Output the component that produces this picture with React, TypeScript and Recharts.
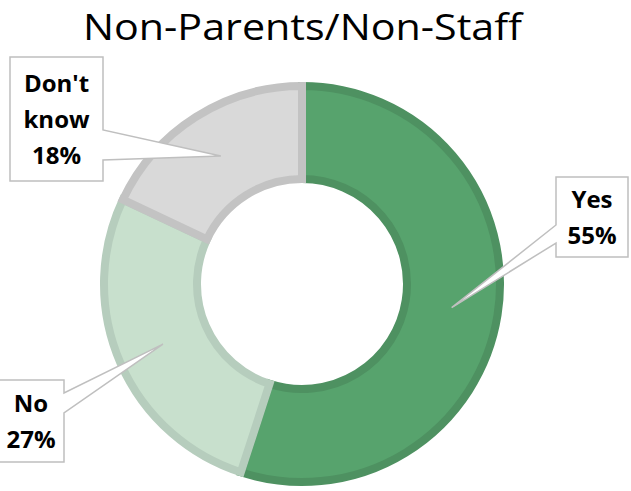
import React from "react";
import { PieChart, Pie, Cell } from "recharts";

const categories = ["Yes", "No", "Don't know"];
const shares = [55, 27, 18];

const FILLS = ["#57a36d", "#c8e0cd", "#d9d9d9"];
const STROKES = ["#4e9161", "#b6cdbd", "#c3c3c3"];

const data = categories.map((name, i) => ({ name, value: shares[i] }));

// callout box placement relative to the pie centre
type Callout = { left: number; top: number; w: number; h: number; side: "left" | "right"; b0: number; b1: number };
const CALLOUTS: Record<string, Callout> = {
  Yes: { left: 254, top: -107, w: 72, h: 80, side: "left", b0: 48, b1: 66 },
  No: { left: -304, top: 96, w: 66, h: 82, side: "right", b0: 13, b1: 33 },
  "Don't know": { left: -292, top: -227, w: 93, h: 124, side: "right", b0: 73, b1: 103 },
};

const CX = 302;
const CY = 284;
const RAD = Math.PI / 180;

const renderCallout = (props: any) => {
  const { cx, cy, midAngle, innerRadius, outerRadius, name, percent } = props;
  const c = CALLOUTS[name];
  if (!c) return null;
  const r = (innerRadius + outerRadius) / 2;
  const tx = cx + r * Math.cos(-midAngle * RAD);
  const ty = cy + r * Math.sin(-midAngle * RAD);
  const x0 = cx + c.left;
  const y0 = cy + c.top;
  const x1 = x0 + c.w;
  const y1 = y0 + c.h;
  let d: string;
  if (c.side === "right") {
    d = `M${x0},${y0} L${x1},${y0} L${x1},${y0 + c.b0} L${tx},${ty} L${x1},${y0 + c.b1} L${x1},${y1} L${x0},${y1} Z`;
  } else {
    d = `M${x0},${y0} L${x1},${y0} L${x1},${y1} L${x0},${y1} L${x0},${y0 + c.b1} L${tx},${ty} L${x0},${y0 + c.b0} Z`;
  }
  const lines = [...String(name).split(" "), `${Math.round(percent * 100)}%`];
  const midY = y0 + c.h / 2;
  const midX = x0 + c.w / 2;
  return (
    <g>
      <path d={d} fill="#ffffff" stroke="#bfbfbf" strokeWidth={1.5} />
      {lines.map((t, i) => (
        <text
          key={i}
          x={midX}
          y={midY + (i - (lines.length - 1) / 2) * 36 + 9}
          textAnchor="middle"
          fontFamily="'Open Sans', sans-serif"
          fontWeight={700}
          fontSize={24}
          fill="#000000"
        >
          {t}
        </text>
      ))}
    </g>
  );
};

const App: React.FC = () => {
  return (
    <div style={{ position: "absolute", left: 0, top: 0, width: 631, height: 491, background: "#ffffff" }}>
      <PieChart width={631} height={491} margin={{ top: 0, right: 0, bottom: 0, left: 0 }}>
        <text
          x={302.5}
          y={40}
          textAnchor="middle"
          fontFamily="'Open Sans', sans-serif"
          fontSize={37}
          fill="#000000"
          textLength={439}
          lengthAdjust="spacingAndGlyphs"
        >
          Non-Parents/Non-Staff
        </text>
        <Pie
          data={data}
          dataKey="value"
          nameKey="name"
          cx={CX}
          cy={CY}
          innerRadius={105}
          outerRadius={198}
          startAngle={90}
          endAngle={-270}
          strokeWidth={8}
          label={renderCallout}
          labelLine={false}
          isAnimationActive={false}
        >
          {data.map((d, i) => (
            <Cell key={d.name} fill={FILLS[i]} stroke={STROKES[i]} />
          ))}
        </Pie>
      </PieChart>
    </div>
  );
};

export default App;
